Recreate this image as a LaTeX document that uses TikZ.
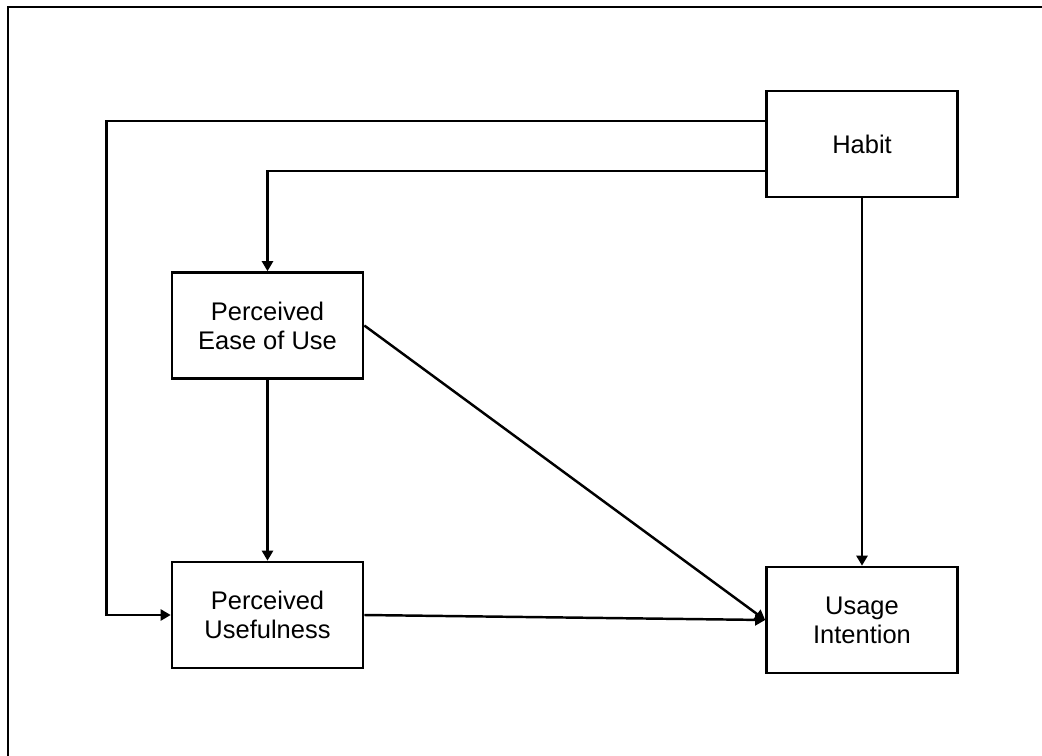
\documentclass[tikz,border=0pt]{standalone}
\usepackage{fontspec}
\setmainfont{Liberation Sans}
\usetikzlibrary{arrows.meta, calc}

\begin{document}
\begin{tikzpicture}[
    x=0.2mm, y=-0.2mm,
    construct/.style={rectangle, draw, line width=1.5pt, minimum width=3.82cm, minimum height=2.12cm, align=center, font=\fontsize{14.5}{16.5}\selectfont, inner sep=0pt},
    link/.style={-{Triangle[length=2mm, width=2.2mm]}, line width=1.4pt},
    frame/.style={line width=1.6pt},
]
\useasboundingbox (0,0) rectangle (1042,756);

\draw[frame] (8,756) |- (1042,7);

\node[construct] (habit) at (862, 144) {Habit};
\node[construct] (peou) at (267.5, 325.5) {Perceived\\Ease of Use};
\node[construct] (pu) at (267.5, 615) {Perceived\\Usefulness};
\node[construct] (ui) at (862, 620) {Usage\\Intention};

\draw[link] ($(habit.west)+(0,-23)$) -| ($(pu.west)+(-64,0)$) -- (pu.west);
\draw[link] ($(habit.west)+(0,27)$) -| (peou.north);
\draw[link] (habit) -- (ui);
\draw[link] (peou) -- (pu);
\draw[link] (peou.east) -- (ui.west);
\draw[link] (pu.east) -- (ui.west);

\end{tikzpicture}
\end{document}
